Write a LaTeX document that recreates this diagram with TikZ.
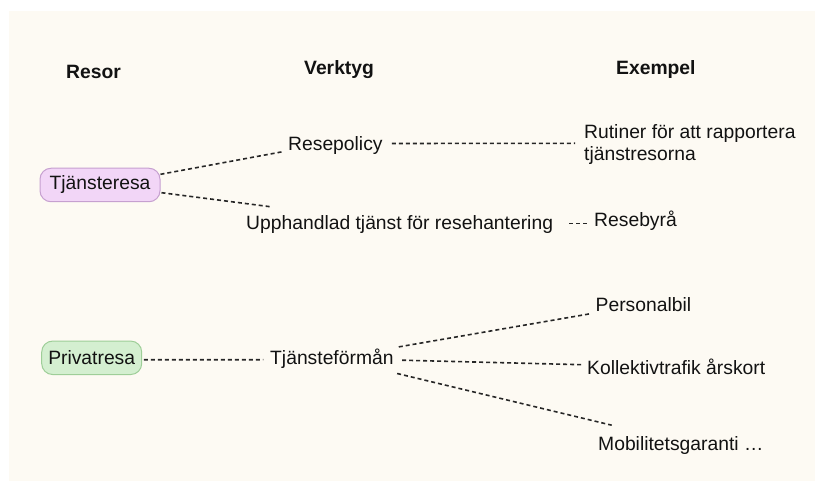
\documentclass[tikz,border=0pt]{standalone}
\usepackage{fontspec}
\setmainfont{Liberation Sans}
\usetikzlibrary{calc}
\definecolor{cream}{RGB}{253,250,243}
\definecolor{txt}{RGB}{18,18,18}
\definecolor{linec}{RGB}{38,38,38}
\definecolor{purfill}{RGB}{242,214,247}
\definecolor{purdraw}{RGB}{198,160,208}
\definecolor{grnfill}{RGB}{212,239,208}
\definecolor{grndraw}{RGB}{158,206,152}
\begin{document}
\begin{tikzpicture}[x=1pt,y=-1pt,
  every node/.style={font=\fontsize{19.3}{21.7}\selectfont, text=txt},
  lbl/.style={inner sep=0pt, anchor=base west, text height=14pt, text depth=0pt},
  hdr/.style={lbl, font=\fontsize{19.3}{21.7}\selectfont\bfseries},
  multi/.style={inner sep=0pt, anchor=north west, align=left},
  pill/.style={rounded corners=11pt, inner sep=0pt, line width=1pt, minimum height=33.5pt},
  link/.style={draw=linec, line width=1.6pt, dash pattern=on 4pt off 3pt}]
\useasboundingbox (0,0) rectangle (815,481);
\fill[white] (0,0) rectangle (815,481);
\fill[cream] (9,11) rectangle (815,481);

% headers
\node[hdr] (hResor) at (66,78.5) {Resor};
\node[hdr] (hVerktyg) at (304,74.5) {Verktyg};
\node[hdr] (hExempel) at (616,74.5) {Exempel};

% travel types
\node[pill, draw=purdraw, fill=purfill, minimum width=120pt] (tj) at (100,185) {Tjänsteresa};
\node[pill, draw=grndraw, fill=grnfill, minimum width=100pt] (pr) at (91.7,357.8) {Privatresa};

% tools
\node[lbl] (rp) at (288,150.7) {Resepolicy};
\node[lbl] (up) at (246,230) {Upphandlad tjänst för resehantering};
\node[lbl] (tf) at (270,365) {Tjänsteförmån};

% examples
\node[multi] (ru) at (584,124.5) {Rutiner för att rapportera\\tjänstresorna};
\node[lbl] (rb) at (594,226.7) {Resebyrå};
\node[lbl] (pb) at (595.5,311.7) {Personalbil};
\node[lbl] (kt) at (587,375) {Kollektivtrafik årskort};
\node[lbl] (mg) at (598,450) {Mobilitetsgaranti …};

% connectors
\draw[link] ($(tj.east)+(0,-10.7)$) -- ($(rp.south west)+(-6.3,1)$);
\draw[link] ($(tj.east)+(1,7.7)$) -- ($(up.south west)+(25.7,-23.3)$);
\draw[link] ($(rp.south east)+(9,-7.4)$) -- ($(ru.north west)+(-9,18.8)$);
\draw[link] ($(up.south east)+(16,-6.7)$) -- ($(rb.south west)+(-4,-3.4)$);
\draw[link] ($(pr.east)+(1.6,2)$) -- ($(tf.south west)+(-6.7,-5.5)$);
\draw[link] ($(tf.south east)+(5,-18.3)$) -- ($(pb.south west)+(-3.8,1.6)$);
\draw[link] ($(tf.south east)+(8.4,-5)$) -- ($(kt.south west)+(-5.3,-10.5)$);
\draw[link] ($(tf.south east)+(3.4,8.3)$) -- ($(mg.south west)+(13.7,-25)$);
\end{tikzpicture}
\end{document}
